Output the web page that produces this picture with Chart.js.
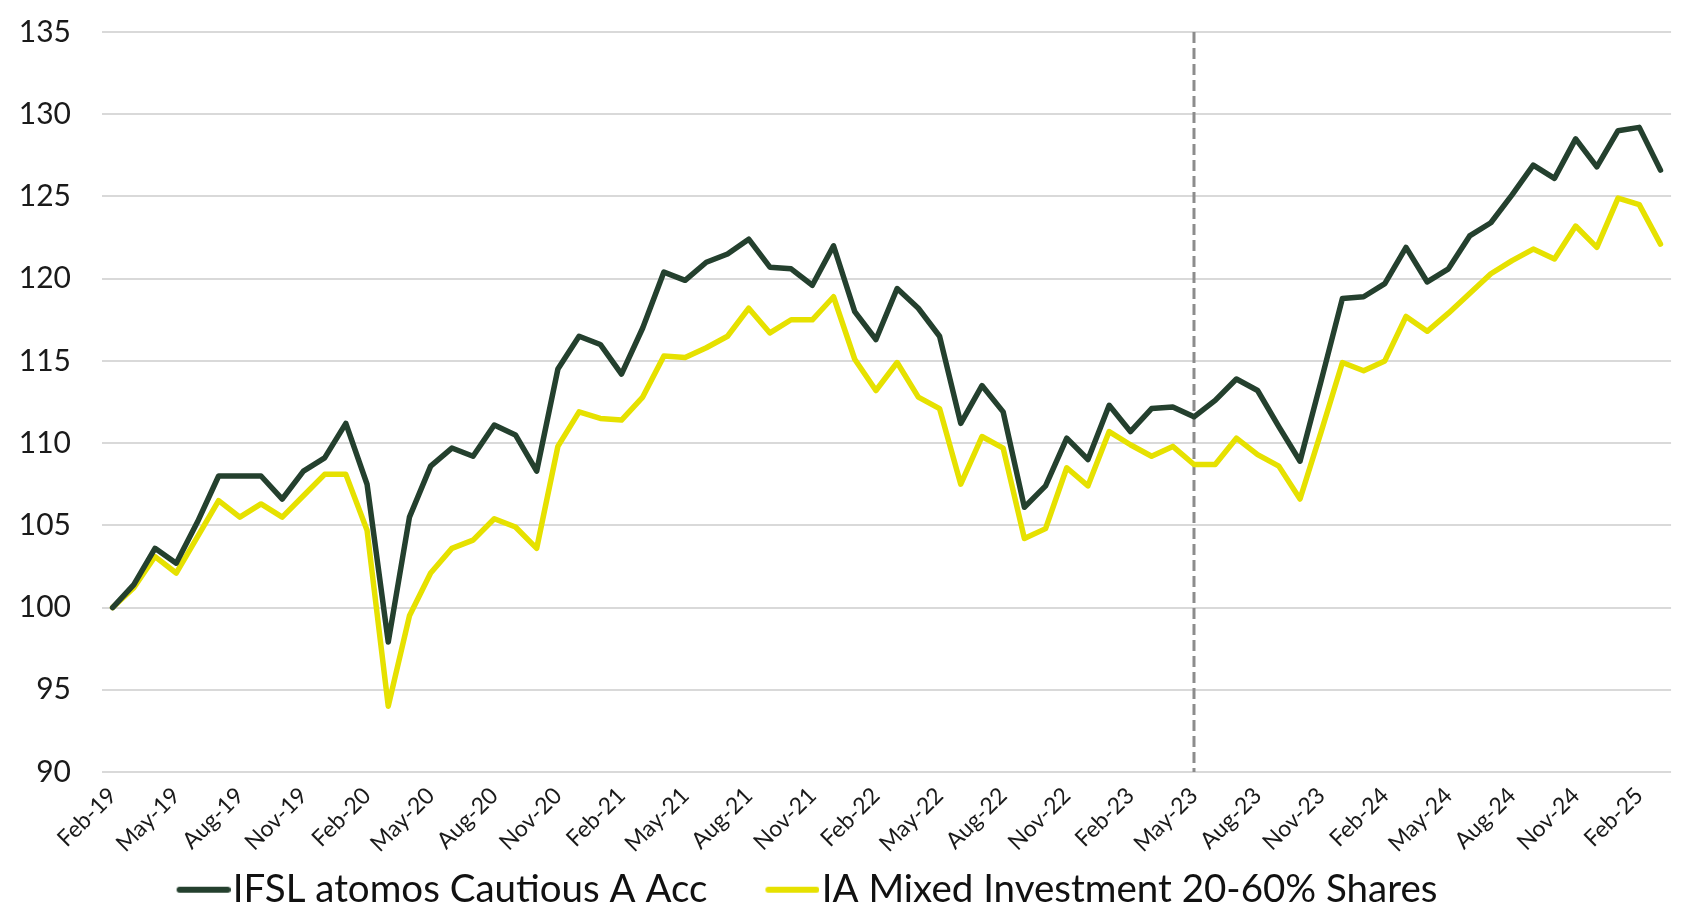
<!DOCTYPE html>
<html>
<head>
<meta charset="utf-8">
<title>IFSL atomos Cautious vs sector</title>
<script src="https://cdn.jsdelivr.net/npm/chart.js@4.4.1/dist/chart.umd.min.js"></script>
<style>
  html, body { margin: 0; padding: 0; background: #fff; }
  #wrap { width: 1690px; height: 908px; }
</style>
</head>
<body>
<div id="wrap"><canvas id="perfChart" width="1690" height="908"></canvas></div>
<script>
// monthly categories, Feb-19 .. Mar-25
const months = [
  'Feb-19','Mar-19','Apr-19','May-19','Jun-19','Jul-19','Aug-19','Sep-19','Oct-19','Nov-19','Dec-19','Jan-20',
  'Feb-20','Mar-20','Apr-20','May-20','Jun-20','Jul-20','Aug-20','Sep-20','Oct-20','Nov-20','Dec-20','Jan-21',
  'Feb-21','Mar-21','Apr-21','May-21','Jun-21','Jul-21','Aug-21','Sep-21','Oct-21','Nov-21','Dec-21','Jan-22',
  'Feb-22','Mar-22','Apr-22','May-22','Jun-22','Jul-22','Aug-22','Sep-22','Oct-22','Nov-22','Dec-22','Jan-23',
  'Feb-23','Mar-23','Apr-23','May-23','Jun-23','Jul-23','Aug-23','Sep-23','Oct-23','Nov-23','Dec-23','Jan-24',
  'Feb-24','Mar-24','Apr-24','May-24','Jun-24','Jul-24','Aug-24','Sep-24','Oct-24','Nov-24','Dec-24','Jan-25',
  'Feb-25','Mar-25'
];

const fundValues = [
  100.0, 101.4, 103.6, 102.7, 105.2, 108.0, 108.0, 108.0, 106.6, 108.3, 109.1, 111.2,
  107.5, 97.9, 105.5, 108.6, 109.7, 109.2, 111.1, 110.5, 108.3, 114.5, 116.5, 116.0,
  114.2, 117.0, 120.4, 119.9, 121.0, 121.5, 122.4, 120.7, 120.6, 119.6, 122.0, 118.0,
  116.3, 119.4, 118.2, 116.5, 111.2, 113.5, 111.9, 106.1, 107.4, 110.3, 109.0, 112.3,
  110.7, 112.1, 112.2, 111.6, 112.6, 113.9, 113.2, 111.0, 108.9, 113.8, 118.8, 118.9,
  119.7, 121.9, 119.8, 120.6, 122.6, 123.4, 125.1, 126.9, 126.1, 128.5, 126.8, 129.0,
  129.2, 126.6
];

const sectorValues = [
  100.0, 101.2, 103.1, 102.1, 104.3, 106.5, 105.5, 106.3, 105.5, 106.8, 108.1, 108.1,
  104.7, 94.0, 99.5, 102.1, 103.6, 104.1, 105.4, 104.9, 103.6, 109.8, 111.9, 111.5,
  111.4, 112.8, 115.3, 115.2, 115.8, 116.5, 118.2, 116.7, 117.5, 117.5, 118.9, 115.1,
  113.2, 114.9, 112.8, 112.1, 107.5, 110.4, 109.7, 104.2, 104.8, 108.5, 107.4, 110.7,
  109.9, 109.2, 109.8, 108.7, 108.7, 110.3, 109.3, 108.6, 106.6, 110.7, 114.9, 114.4,
  115.0, 117.7, 116.8, 117.9, 119.1, 120.3, 121.1, 121.8, 121.2, 123.2, 121.9, 124.9,
  124.5, 122.1
];

const yMin = 90;
const yMax = 135;
const yStep = 5;
const labelEvery = 3;      // show every third month on the axis
const markerMonth = 'May-23';

const fundColor = '#24402e';
const sectorColor = '#e6e100';

// legend swatch: transparent on the left, short round-capped line on the right
// so the line sits right against its text and items get the wide gap between them
function legendSwatch(color) {
    const c = document.createElement('canvas');
    c.width = 125;
    c.height = 10;
    const g = c.getContext('2d');
    g.strokeStyle = color;
    g.lineWidth = 6;
    g.lineCap = 'round';
    g.beginPath();
    g.moveTo(74, 5);
    g.lineTo(122, 5);
    g.stroke();
    return c;
}

// vertical dashed line at the marker month, drawn under the series
const markerLine = {
    id: 'markerLine',
    beforeDatasetsDraw(chart) {
        const xScale = chart.scales.x;
        const area = chart.chartArea;
        const x = xScale.getPixelForValue(months.indexOf(markerMonth));
        const ctx = chart.ctx;
        ctx.save();
        ctx.strokeStyle = '#8c8c8c';
        ctx.lineWidth = 3;
        ctx.setLineDash([11, 5]);
        ctx.beginPath();
        ctx.moveTo(x, area.top);
        ctx.lineTo(x, area.bottom);
        ctx.stroke();
        ctx.restore();
    }
};

// nudge the legend left, like the original
const legendNudge = {
    id: 'legendNudge',
    afterLayout(chart) {
        chart.legend.left -= 64;
        chart.legend.right -= 64;
    }
};

const ctx = document.getElementById('perfChart').getContext('2d');
const perfChart = new Chart(ctx, {
    type: 'line',
    data: {
        labels: months,
        datasets: [{
            label: 'IFSL atomos Cautious A Acc',
            data: fundValues,
            borderColor: fundColor,
            backgroundColor: fundColor,
            borderWidth: 5.5,
            borderJoinStyle: 'round',
            borderCapStyle: 'round',
            pointRadius: 0,
            pointStyle: legendSwatch(fundColor),
            tension: 0
        }, {
            label: 'IA Mixed Investment 20-60% Shares',
            data: sectorValues,
            borderColor: sectorColor,
            backgroundColor: sectorColor,
            borderWidth: 5.5,
            borderJoinStyle: 'round',
            borderCapStyle: 'round',
            pointRadius: 0,
            pointStyle: legendSwatch(sectorColor),
            tension: 0
        }]
    },
    options: {
        responsive: false,
        animation: false,
        layout: {
            padding: { top: 32, right: 2, bottom: -11, left: 0 }
        },
        plugins: {
            tooltip: { enabled: false },
            legend: {
                position: 'bottom',
                labels: {
                    color: '#111',
                    font: { family: 'Lato', size: 38.5 },
                    usePointStyle: true,
                    pointStyleWidth: 91,
                    padding: 4
                }
            }
        },
        scales: {
            x: {
                offset: true,
                grid: { display: false, drawTicks: false },
                border: { display: false },
                afterFit(scale) { scale.height = 94.5; },
                ticks: {
                    autoSkip: false,
                    maxRotation: 45,
                    minRotation: 45,
                    padding: 10,
                    color: '#1a1a1a',
                    font: { family: 'Lato', size: 23 },
                    callback: function(value, index) {
                        return index % labelEvery === 0 ? months[index] : '';
                    }
                }
            },
            y: {
                min: yMin,
                max: yMax,
                afterFit(scale) { scale.width = 102; },
                grid: {
                    color: '#d9d9d9',
                    lineWidth: 2,
                    drawTicks: true,
                    tickLength: 31,
                    tickColor: 'rgba(0,0,0,0)'
                },
                border: { display: false },
                ticks: {
                    stepSize: yStep,
                    padding: 0,
                    color: '#1a1a1a',
                    font: { family: 'Lato', size: 30 }
                }
            }
        }
    },
    plugins: [markerLine, legendNudge]
});
</script>
</body>
</html>
